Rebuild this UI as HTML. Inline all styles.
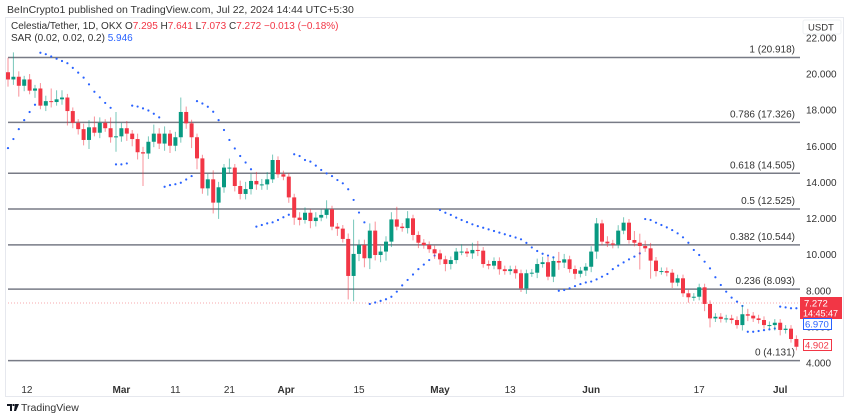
<!DOCTYPE html>
<html><head><meta charset="utf-8"><style>
body{margin:0;width:850px;height:418px;background:#fff;overflow:hidden;font-family:"Liberation Sans",sans-serif}
svg{position:absolute;left:0;top:0}
</style></head><body>
<svg width="850" height="418">
<text x="7" y="13" font-size="10.5" fill="#333">BeInCrypto1 published on TradingView.com, Jul 22, 2024 14:44 UTC+5:30</text>
<rect x="5.5" y="17.5" width="838" height="379" fill="none" stroke="#e6e8ee"/>
<g id="fib"></g>
<line x1="8" x2="800" y1="303" y2="303" stroke="#f7a8ae" stroke-dasharray="1,2"/>
<g id="sar"></g>
<g id="candles"></g>
<g id="yaxis"></g>
<g id="xaxis"></g>
<rect x="803" y="20" width="38" height="14" fill="#fff" stroke="#eef0f3" rx="2"/>
<text x="808" y="30.5" font-size="9.5" fill="#333">USDT</text>
<rect x="800" y="297" width="42" height="22" fill="#f23645"/>
<text x="804" y="306.5" font-size="9.5" fill="#fff">7.272</text>
<text x="803" y="316.5" font-size="9" fill="#fff">14:45:47</text>
<rect x="803.5" y="318.5" width="28" height="11" fill="#fff" stroke="#2962ff"/>
<text x="805" y="327.5" font-size="9.5" fill="#2962ff">6.970</text>
<rect x="803.5" y="339.5" width="28" height="11" fill="#fff" stroke="#f23645"/>
<text x="805" y="348.5" font-size="9.5" fill="#f23645">4.902</text>
<g>
<text x="11" y="29" font-size="10" fill="#333">Celestia/Tether, 1D, OKX  <tspan fill="#333">O</tspan><tspan fill="#f23645">7.295</tspan> <tspan fill="#333">H</tspan><tspan fill="#f23645">7.641</tspan> <tspan fill="#333">L</tspan><tspan fill="#f23645">7.073</tspan> <tspan fill="#333">C</tspan><tspan fill="#f23645">7.272 −0.013 (−0.18%)</tspan></text>
<text x="11" y="41" font-size="10" fill="#333">SAR (0.02, 0.02, 0.2) <tspan fill="#2962ff">5.946</tspan></text>
</g>
<g>
<path d="M7 404h5v7h-2v-5h-3z M12.5 404h2v2h-2z M15 404h4l-3 7h-2z" fill="#131722"/>
<text x="21" y="411" font-size="10.5" fill="#333">TradingView</text>
</g>
</svg>
<script>
const closes=[19.7,19.85,19.35,19.7,19.08,19.2,18.25,18.5,18.45,18.6,18.7,17.95,17.3,16.95,
16.35,17.05,16.75,17.3,17.0,16.5,16.55,17.0,16.7,16.4,15.67,15.6,16.25,16.7,16.15,16.7,16.03,16.5,17.9,17.27,16.5,15.33,
13.67,14.17,12.88,13.73,14.82,14.82,13.8,13.36,13.63,14.08,13.89,13.89,14.17,15.24,14.45,14.32,13.17,12.05,11.92,12.32,11.86,12.05,12.2,12.51,11.55,11.44,10.87,8.82,10.04,10.53,9.8,11.33,9.98,10.17,10.72,
11.95,11.55,11.47,12.01,11.09,10.66,10.53,10.3,10.07,9.74,9.48,9.7,10.17,10.17,10.07,10.26,10.22,9.48,9.39,9.65,9.19,9.09,9.19,8.97,8.13,8.97,9.0,9.48,9.58,8.78,9.65,9.56,9.74,9.2,8.94,9.12,9.33,10.17,11.73,
10.72,10.62,10.55,11.33,11.77,10.81,10.66,10.48,10.35,9.67,9.09,9.09,9.0,8.45,8.69,7.86,7.64,7.67,8.19,7.27,6.47,6.56,6.44,6.47,6.38,6.1,6.7,6.62,6.47,6.38,6.1,6.1,6.23,5.83,5.9,5.33,4.9];
const firstOpen=20.1;
const wickHi=[0.8,1.35,0.3,0.2,0.3,0.2,0.3,0.3,0.7,0.5,0.4,0.2,0.2,0.2,
0.3,0.4,0.6,0.3,0.2,0.6,1.35,0.3,0.4,0.2,0.3,0.3,0.3,0.5,0.3,0.4,0.2,0.3,0.8,0.3,0.2,0.2,
0.2,0.3,0.5,0.3,0.2,0.5,0.2,0.3,0.4,0.4,0.5,0.3,0.4,0.3,0.2,0.2,0.2,0.2,0.3,0.3,0.2,0.3,0.3,0.5,0.2,0.2,0.2,0.3,1.9,0.3,0.3,0.4,0.5,0.3,0.3,
0.4,0.7,0.2,0.4,0.2,0.2,0.2,0.2,0.2,0.2,0.2,0.2,0.2,0.4,0.2,0.4,0.5,0.2,0.2,0.2,0.2,0.2,0.2,0.2,0.2,0.2,0.2,0.3,0.3,0.3,0.2,0.5,0.3,0.2,0.2,0.2,0.2,0.3,0.3,
0.2,0.3,0.2,0.3,0.3,0.2,0.5,0.5,0.3,0.3,0.2,0.2,0.2,0.2,0.2,0.2,0.2,0.2,0.2,0.2,0.2,0.2,0.2,0.2,0.2,0.2,0.5,0.3,0.2,0.2,0.2,0.2,0.2,0.2,0.2,0.2,0.2];
const wickLo=[0.4,0.3,0.6,0.3,0.2,0.4,0.2,0.3,0.3,0.2,0.3,0.8,0.3,0.3,
0.3,0.5,0.2,0.3,0.2,0.3,0.8,0.3,0.4,0.4,0.4,1.8,0.3,0.3,0.3,0.4,0.4,0.3,0.3,0.3,0.6,0.6,
0.3,0.4,0.6,0.9,0.3,0.3,0.3,0.3,0.3,0.3,0.3,0.3,0.3,0.2,0.2,0.2,0.3,0.4,0.3,0.2,0.4,0.3,0.2,0.2,0.2,0.4,0.2,1.3,1.4,0.4,0.5,0.6,0.3,0.4,0.5,
0.3,0.2,0.2,0.3,0.3,0.3,0.2,0.2,0.3,0.3,0.4,0.3,0.2,0.2,0.2,0.3,0.3,0.2,0.2,0.2,0.3,0.2,0.2,0.3,0.2,0.3,0.2,0.3,0.2,0.2,0.3,0.4,0.3,0.2,0.3,0.2,0.3,0.3,0.4,
0.2,0.2,0.2,0.2,0.2,0.2,0.2,1.3,0.2,1.0,0.3,0.2,0.2,0.3,0.2,0.2,0.3,0.2,0.2,0.4,0.5,0.2,0.2,0.2,0.2,0.2,0.3,0.3,0.2,0.2,0.2,0.2,0.3,0.3,0.2,0.2,0.2];
const sar=[15.9,16.4,16.95,17.45,17.9,18.3,
21.18,21.1,20.97,20.85,20.72,20.6,20.34,20.08,19.8,19.43,19.02,18.71,18.4,18.13,
15.0,15.0,15.05,
18.25,18.2,18.1,17.98,17.8,17.6,
13.76,13.85,13.9,13.98,14.16,14.35,
18.5,18.37,18.19,17.91,17.45,16.9,16.35,15.88,15.46,15.1,14.73,
11.55,11.64,11.73,11.79,11.92,12.07,12.21,
15.56,15.46,15.24,15.15,14.93,14.69,14.5,14.35,14.13,13.95,13.62,13.03,12.33,11.79,
7.27,7.35,7.44,7.53,7.67,7.95,8.3,8.6,8.9,9.2,9.45,9.7,9.95,
12.47,12.32,12.2,12.05,11.92,11.8,11.68,11.58,11.49,11.4,11.31,11.22,11.13,11.04,10.95,10.85,10.65,10.4,10.2,10.05,9.95,9.85,
8.0,8.04,8.13,8.26,8.37,8.46,8.51,8.63,8.78,8.93,9.2,9.39,9.57,9.74,9.89,10.07,
11.97,11.92,11.77,11.64,11.51,11.36,11.18,10.96,10.66,10.26,9.98,9.61,9.24,8.75,8.32,7.95,7.62,7.4,7.16,
5.73,5.73,5.77,5.82,5.86,5.91,
7.12,7.08,7.03,7.03];
const fibRatios=["1","0.786","0.618","0.5","0.382","0.236","0"];
const fibPrices=[20.918,17.326,14.505,12.525,10.544,8.093,4.131];
const priceTicks=[22,20,18,16,14,12,10,8,6,4];
const timeLabels=["12","Mar","11","21","Apr","15","May","13","Jun","17","Jul"];
const timeIndex=[3.5,21,31,41,51.5,65,80,93,108,128,143];

const NS="http://www.w3.org/2000/svg";
const y=p=>363-(p-4)*18.06;
const x=i=>8+i*5.4;
function mk(tag,attrs,parent){const e=document.createElementNS(NS,tag);for(const k in attrs)e.setAttribute(k,attrs[k]);parent.appendChild(e);return e;}

const fg=document.getElementById('fib');
fibPrices.forEach((p,i)=>{
  const l=mk('line',{x1:8,x2:800,y1:y(p),y2:y(p),stroke:'#787b86','stroke-width':1.5},fg);
  
  
  const t=mk('text',{x:795,y:y(p)-5,'font-size':10,fill:'#333','text-anchor':'end'},fg);
  t.textContent=fibRatios[i]+' ('+p.toFixed(3)+')';
  
  
});

const sg=document.getElementById('sar');
sar.forEach((p,i)=>{
  const c=mk('circle',{cx:x(i),cy:y(p),r:1.1,fill:'#2962ff'},sg);
  
  
});

const cg=document.getElementById('candles');
closes.forEach((c,i)=>{
  const o=i===0?firstOpen:closes[i-1];
  const up=c>=o;
  const col=up?'#089981':'#f23645';
  const hi=Math.max(o,c)+wickHi[i], lo=Math.min(o,c)-wickLo[i];
  const w=mk('line',{x1:x(i),x2:x(i),y1:y(hi),y2:y(lo),stroke:col,'stroke-opacity':0.55,'stroke-width':1},cg);
  
  
  const top=y(Math.max(o,c)), h=Math.max(1,y(Math.min(o,c))-top);
  const b=mk('rect',{x:x(i)-2,y:top,width:4,height:h,fill:col},cg);
  
  
});

const yg=document.getElementById('yaxis');
priceTicks.forEach(p=>{
  const t=mk('text',{x:806,y:y(p)+3.5,'font-size':10,fill:'#333'},yg);
  t.textContent=p.toFixed(3);
  
  
});

const xg=document.getElementById('xaxis');
timeLabels.forEach((s,i)=>{
  const bold=isNaN(+s);
  const t=mk('text',{x:x(timeIndex[i]),y:393,'font-size':10,fill:'#333','text-anchor':'middle','font-weight':bold?'bold':'normal'},xg);
  t.textContent=s;
  
  
});
</script>
</body></html>
